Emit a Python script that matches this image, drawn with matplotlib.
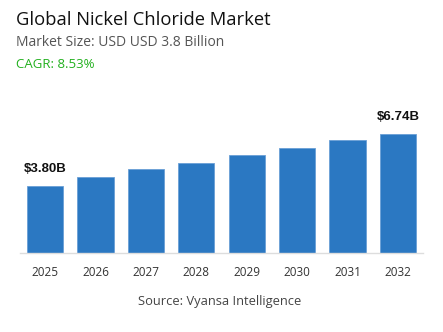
import matplotlib
matplotlib.use('Agg')
import matplotlib.pyplot as plt

YEARS = ['2025', '2026', '2027', '2028', '2029', '2030', '2031', '2032']
VALUES = [3.80, 4.33, 4.78, 5.12, 5.57, 5.97, 6.43, 6.74]
LABELED = {0: '$3.80B', 7: '$6.74B'}

TITLE = 'Global Nickel Chloride Market'
SUBTITLE = 'Market Size: USD USD 3.8 Billion'
CAGR = 'CAGR: 8.53%'
SOURCE = 'Source: Vyansa Intelligence'

BAR_COLOR = '#2b78c2'

fig = plt.figure(figsize = (4.43, 3.32), dpi = 100)
ax = fig.add_axes([0.045, 0.237, 0.91, 0.462])

x = list(range(len(YEARS)))
ax.bar(x, VALUES, width = 0.72, color = BAR_COLOR, edgecolor = '#6a9fd6', linewidth = 0.6)
ax.set_xlim(-0.5, 7.5)
ax.set_ylim(0, 8.69)

for i, txt in LABELED.items():
    ax.annotate(txt, (x[i], VALUES[i]), xytext = (0, 8), textcoords = 'offset points',
        ha = 'center', va = 'bottom', fontsize = 9.5, fontweight = 'bold',
        family = 'Liberation Sans', color = '#111111')

ax.set_xticks(x)
ax.set_xticklabels(YEARS, family = 'Open Sans', fontsize = 8.5, color = '#333333')
ax.tick_params(axis = 'x', length = 0, pad = 9)
ax.set_yticks([])
for side in ['top', 'right', 'left']:
    ax.spines[side].set_visible(False)
ax.spines['bottom'].set_color('#dddddd')
ax.spines['bottom'].set_linewidth(1.0)

fig.text(16 / 443, 1 - 20 / 332, TITLE, ha = 'left', va = 'center',
    family = 'Open Sans', fontsize = 13.2, color = '#111111')
fig.text(16 / 443, 1 - 43 / 332, SUBTITLE, ha = 'left', va = 'center',
    family = 'Open Sans', fontsize = 10, color = '#555555')
fig.text(16 / 443, 1 - 65 / 332, CAGR, ha = 'left', va = 'center',
    family = 'Open Sans', fontsize = 9.5, color = '#22b01e')
fig.text(220 / 443, 1 - 302 / 332, SOURCE, ha = 'center', va = 'center',
    family = 'Open Sans', fontsize = 9.3, color = '#444444')

fig.savefig('out.png', dpi = 100)
